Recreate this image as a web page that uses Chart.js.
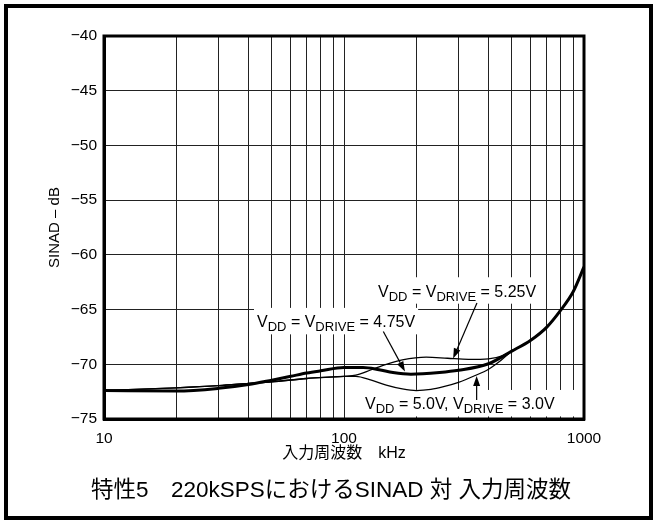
<!DOCTYPE html>
<html>
<head>
<meta charset="utf-8">
<style>
  html, body { margin: 0; padding: 0; background: #fff; }
  #wrap { position: relative; width: 656px; height: 521px; }
  canvas { display: block; }
</style>
<script src="https://cdn.jsdelivr.net/npm/chart.js@4.4.0/dist/chart.umd.min.js"></script>
</head>
<body>
<div id="wrap"><canvas id="c" width="656" height="521"></canvas></div>
<script>
const FONT = "'Liberation Sans', Arial, 'Noto Sans CJK JP', sans-serif";

// SINAD versus input frequency (kHz), one pair of arrays per supply condition
// VDD = VDRIVE = 5.25V
const freq525 = [10, 20, 30, 40, 50, 70, 100, 112, 130, 150, 175, 220, 270, 330, 400, 460, 500, 600, 700, 800, 900, 1000];
const sinad525 = [-72.4, -72.15, -71.95, -71.75, -71.6, -71.3, -71.1, -71.0, -70.5, -70.0, -69.6, -69.35, -69.45, -69.55, -69.5, -69.2, -68.8, -67.8, -66.6, -65.05, -63.4, -61.1];

// VDD = VDRIVE = 4.75V (heavy trace)
const freq475 = [10, 20, 30, 40, 50, 60, 70, 80, 100, 120, 140, 160, 190, 250, 300, 400, 500, 600, 700, 800, 900, 1000];
const sinad475 = [-72.4, -72.45, -72.2, -71.85, -71.45, -71.1, -70.8, -70.6, -70.3, -70.3, -70.5, -70.75, -70.9, -70.75, -70.55, -69.95, -68.8, -67.8, -66.6, -65.05, -63.4, -61.1];

// VDD = 5.0V, VDRIVE = 3.0V
const freq50 = [10, 20, 30, 40, 50, 70, 100, 112, 130, 150, 175, 200, 230, 260, 300, 350, 400, 450, 500, 600, 700, 800, 900, 1000];
const sinad50 = [-72.4, -72.15, -71.95, -71.75, -71.6, -71.3, -71.1, -71.1, -71.45, -71.9, -72.25, -72.4, -72.3, -72.05, -71.65, -71.05, -70.45, -69.65, -68.8, -67.8, -66.6, -65.05, -63.4, -61.1];

// Axis ticks
const xTickValues = [10, 20, 30, 40, 50, 60, 70, 80, 90, 100, 200, 300, 400, 500, 600, 700, 800, 900, 1000];
const xTickLabels = [10, 100, 1000];
const yMin = -75, yMax = -40, yStep = 5;

// Texts
const xAxisTitle = '入力周波数　kHz';
const yAxisTitle = 'SINAD – dB';
const captionText = '特性5　220kSPSにおけるSINAD 対 入力周波数';

// Callouts: text runs ([text, isSubscript]), label anchor and arrow, in (kHz, dB)
const callouts = [
  { parts: [['V', 0], ['DD', 1], [' = V', 0], ['DRIVE', 1], [' = 5.25V', 0]],
    at: [138.6, -63.3], tail: [358, -64.4], tip: [285, -69.46] },
  { parts: [['V', 0], ['DD', 1], [' = V', 0], ['DRIVE', 1], [' = 4.75V', 0]],
    at: [43.4, -66.1], tail: [145.8, -67.0], tip: [179.5, -70.65] },
  { parts: [['V', 0], ['DD', 1], [' = 5.0V, V', 0], ['DRIVE', 1], [' = 3.0V', 0]],
    at: [122.3, -73.6], tail: [357, -73.27], tip: [357, -71.08], toEdge: true }
];

const toPoints = (xs, ys) => xs.map((f, i) => ({ x: f, y: ys[i] }));

const MAIN_PX = 16, SUB_PX = 13;

function calloutBox(ctx, c, xs, ys) {
  const x0 = xs.getPixelForValue(c.at[0]);
  const cy = ys.getPixelForValue(c.at[1]);
  const base = cy + MAIN_PX * 0.716 / 2;
  let w = 0;
  for (const [t, sub] of c.parts) {
    ctx.font = (sub ? SUB_PX : MAIN_PX) + 'px ' + FONT;
    w += ctx.measureText(t).width;
  }
  return { x0, base, w, left: x0 - 3, right: x0 + w + 3,
           top: base - MAIN_PX * 0.716 - 8, bottom: base + 4 + 3 };
}

const figurePlugin = {
  id: 'figure',
  beforeDatasetsDraw(chart) {
    // white panels behind callout text, over the grid
    const { ctx, chartArea, scales } = chart;
    ctx.save();
    ctx.fillStyle = '#fff';
    for (const c of callouts) {
      const b = calloutBox(ctx, c, scales.x, scales.y);
      const right = c.toEdge ? chartArea.right - 2 : b.right;
      const bottom = Math.min(b.bottom, chartArea.bottom - 2);
      ctx.fillRect(b.left, b.top, right - b.left, bottom - b.top);
    }
    ctx.restore();
  },
  afterDatasetsDraw(chart) {
    const { ctx, chartArea, scales } = chart;
    const xs = scales.x, ys = scales.y;
    ctx.save();
    // heavy plot frame
    ctx.strokeStyle = '#000';
    ctx.lineWidth = 3;
    ctx.strokeRect(chartArea.left, chartArea.top, chartArea.right - chartArea.left, chartArea.bottom - chartArea.top);

    for (const c of callouts) {
      // arrow
      const tx = xs.getPixelForValue(c.tail[0]), ty = ys.getPixelForValue(c.tail[1]);
      const px = xs.getPixelForValue(c.tip[0]), py = ys.getPixelForValue(c.tip[1]);
      const ang = Math.atan2(py - ty, px - tx);
      const headLen = 10, headHalf = 3.5;
      const bx = px - headLen * Math.cos(ang), by = py - headLen * Math.sin(ang);
      ctx.strokeStyle = '#000';
      ctx.lineWidth = 1.2;
      ctx.beginPath();
      ctx.moveTo(tx, ty);
      ctx.lineTo(bx, by);
      ctx.stroke();
      ctx.fillStyle = '#000';
      ctx.beginPath();
      ctx.moveTo(px, py);
      ctx.lineTo(bx + headHalf * Math.sin(ang), by - headHalf * Math.cos(ang));
      ctx.lineTo(bx - headHalf * Math.sin(ang), by + headHalf * Math.cos(ang));
      ctx.closePath();
      ctx.fill();

      // label text with subscripts
      const b = calloutBox(ctx, c, xs, ys);
      let x = b.x0;
      ctx.textAlign = 'left';
      ctx.textBaseline = 'alphabetic';
      for (const [t, sub] of c.parts) {
        ctx.font = (sub ? SUB_PX : MAIN_PX) + 'px ' + FONT;
        ctx.fillText(t, x, sub ? b.base + 4 : b.base);
        x += ctx.measureText(t).width;
      }
    }
    ctx.restore();
  },
  afterDraw(chart) {
    const { ctx, width, height } = chart;
    ctx.save();
    ctx.fillStyle = '#000';
    ctx.font = '22.5px ' + FONT;
    ctx.textAlign = 'center';
    ctx.textBaseline = 'middle';
    ctx.fillText(captionText, 331, 491);
    // outer frame
    ctx.strokeStyle = '#000';
    ctx.lineWidth = 4;
    ctx.strokeRect(6, 6, width - 11, height - 9);
    ctx.restore();
  }
};

new Chart(document.getElementById('c'), {
  type: 'line',
  data: {
    datasets: [
      { label: 'VDD = VDRIVE = 4.75V', data: toPoints(freq475, sinad475), borderWidth: 3 },
      { label: 'VDD = VDRIVE = 5.25V', data: toPoints(freq525, sinad525), borderWidth: 1.3 },
      { label: 'VDD = 5.0V, VDRIVE = 3.0V', data: toPoints(freq50, sinad50), borderWidth: 1.3 }
    ]
  },
  options: {
    responsive: false,
    animation: false,
    devicePixelRatio: 1,
    layout: { padding: { left: 0, top: 36, right: 72, bottom: 0 } },
    elements: {
      line: { borderColor: '#000', fill: false, cubicInterpolationMode: 'monotone' },
      point: { radius: 0, hoverRadius: 0 }
    },
    plugins: { legend: { display: false }, tooltip: { enabled: false } },
    scales: {
      x: {
        type: 'logarithmic',
        min: 10, max: 1000,
        afterBuildTicks: s => { s.ticks = xTickValues.map(v => ({ value: v })); },
        afterFit: s => { s.height = 102; },
        ticks: {
          autoSkip: false, maxRotation: 0, padding: 10, color: '#000',
          font: { family: FONT, size: 15.5 },
          callback: v => (xTickLabels.includes(v) ? String(v) : '')
        },
        grid: { color: '#222', lineWidth: 1, drawTicks: false },
        border: { display: true, color: '#000', width: 3 },
        title: { display: true, text: xAxisTitle, color: '#000',
                 font: { family: FONT, size: 16 }, padding: { top: 0, bottom: 58 } }
      },
      y: {
        min: yMin, max: yMax,
        afterFit: s => { s.width = 104; },
        ticks: {
          stepSize: yStep, padding: 7, color: '#000',
          font: { family: FONT, size: 15.5 },
          callback: v => (v < 0 ? '\u2212' + Math.abs(v) : String(v))
        },
        grid: { color: '#222', lineWidth: 1, drawTicks: false },
        border: { display: true, color: '#000', width: 3 },
        title: { display: true, text: yAxisTitle, color: '#000',
                 font: { family: FONT, size: 15 }, padding: { top: 46, bottom: 0 } }
      }
    }
  },
  plugins: [figurePlugin]
});
</script>
</body>
</html>
